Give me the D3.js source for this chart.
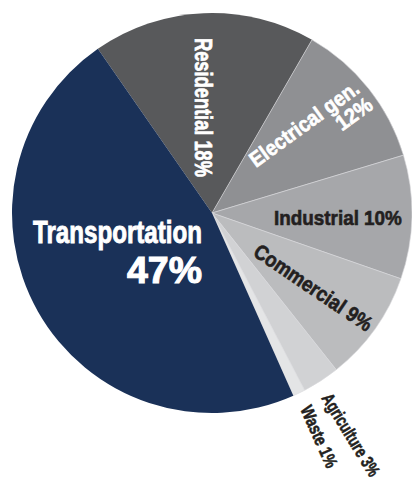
<!DOCTYPE html>
<html>
<head>
<meta charset="utf-8">
<script src="https://cdn.jsdelivr.net/npm/d3@7"></script>
<style>
  html, body { margin: 0; padding: 0; background: #ffffff; }
  svg { display: block; }
  text { font-family: "Liberation Sans", Arial, "Roboto", sans-serif; font-weight: bold; }
</style>
</head>
<body>
<svg id="chart" width="412" height="481"></svg>
<script>
// ---- data ----
const categories = ["Residential", "Electrical gen.", "Industrial", "Commercial", "Agriculture", "Waste", "Transportation"];
const values = [18, 12, 10, 9, 3, 1, 47];
const valueLabels = ["18%", "12%", "10%", "9%", "3%", "1%", "47%"];
const colors = ["#58595b", "#8f9093", "#a6a7aa", "#bbbcbe", "#d1d2d4", "#e4e5e6", "#1a3158"];

// ---- layout ----
const W = 412, H = 481;
const cx = 212, cy = 213, R = 200;
const startDeg = -34.8;

const svg = d3.select("#chart");
const g = svg.append("g").attr("transform", `translate(${cx},${cy})`);

const pie = d3.pie().sort(null).value(d => d.v)
  .startAngle(startDeg * Math.PI / 180)
  .endAngle(startDeg * Math.PI / 180 + 2 * Math.PI);
const arc = d3.arc().innerRadius(0).outerRadius(R);
const data = categories.map((c, i) => ({ c, v: values[i], col: colors[i], lab: valueLabels[i] }));
const arcs = pie(data);

g.selectAll("path.slice").data(arcs).join("path")
  .attr("class", "slice")
  .attr("d", arc)
  .attr("fill", d => d.data.col)
  .attr("stroke", d => d.data.c === "Transportation" || d.data.c === "Residential" ? "none" : "#d8d9db")
  .attr("stroke-width", 0.6);

// helper: draw text and stretch/compress it horizontally to target length
function fitText(parent, str, size, color, anchor, target) {
  const t = parent.append("text")
    .attr("font-size", size)
    .attr("fill", color)
    .attr("stroke", color)
    .attr("stroke-width", size * 0.03)
    .attr("text-anchor", anchor)
    .text(str);
  const len = t.node().getComputedTextLength();
  if (target && len > 0) t.attr("transform", `scale(${target / len},1)`);
  return t;
}
const byName = Object.fromEntries(arcs.map(a => [a.data.c, a]));
const white = "#ffffff", dark = "#231f20";

// Transportation
{
  const d = byName["Transportation"].data;
  const a = g.append("g").attr("transform", "translate(-10,30)");
  fitText(a, d.c, 30.5, white, "end", 169);
  const b = g.append("g").attr("transform", "translate(-10,70)");
  fitText(b, d.lab, 37, white, "end", 75);
}
// Residential
{
  const d = byName["Residential"].data;
  const a = g.append("g").attr("transform", "translate(-17,-105.5) rotate(90)");
  fitText(a, d.c + " " + d.lab, 24.5, white, "middle", 139);
}
// Electrical gen.
{
  const d = byName["Electrical gen."].data;
  const a = g.append("g").attr("transform", "translate(44,-45) rotate(-36)");
  fitText(a, d.c, 21.5, white, "start", 130);
  const b = a.append("g").attr("transform", "translate(131,21)");
  fitText(b, d.lab, 21.5, white, "end", 40);
}
// Industrial
{
  const d = byName["Industrial"].data;
  const a = g.append("g").attr("transform", "translate(62,12)");
  fitText(a, d.c + " " + d.lab, 20.5, dark, "start", 128);
}
// Commercial
{
  const d = byName["Commercial"].data;
  const a = g.append("g").attr("transform", "translate(40,42) rotate(34)");
  fitText(a, d.c + " " + d.lab, 21, dark, "start", 138);
}
// Agriculture
{
  const d = byName["Agriculture"].data;
  const a = g.append("g").attr("transform", "translate(109,185) rotate(58.5)");
  fitText(a, d.c + " " + d.lab, 18, dark, "start", 94);
}
// Waste
{
  const d = byName["Waste"].data;
  const a = g.append("g").attr("transform", "translate(88,196) rotate(66)");
  fitText(a, d.c + " " + d.lab, 18, dark, "start", 66);
}
</script>
</body>
</html>
